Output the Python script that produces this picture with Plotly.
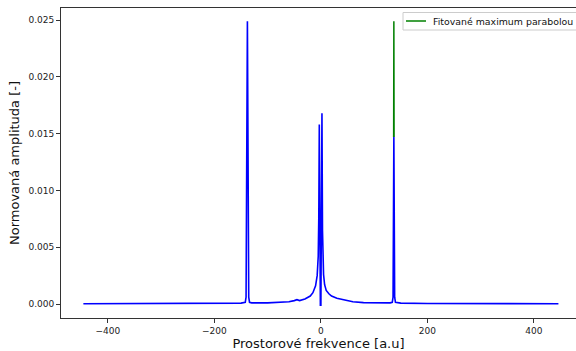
import plotly.graph_objects as go

# Spectrum (spatial frequency vs normalized amplitude)
freq = [-446, -300, -200, -150, -142, -140.5, -138, -135.5, -134, -130, -100, -80,
        -60, -50, -45, -40, -30, -20, -15, -10, -7, -5, -4, -3, -2, -1, 0,
        1, 2, 3, 4, 5, 7, 10, 15, 20, 30, 40, 45, 50, 60, 80, 100, 130,
        134, 135.5, 137, 138.5, 140, 150, 200, 300, 446]
amp = [0.00003, 0.00004, 0.00005, 0.00008, 0.00015, 0.0006, 0.0249, 0.0006, 0.00015, 0.0001, 0.0001, 0.00012,
       0.0002, 0.0003, 0.00038, 0.0003, 0.00045, 0.0007, 0.001, 0.0016, 0.0025, 0.0042, 0.0075, 0.0158, 0.005, -0.0001, -0.0001,
       0.006, 0.0168, 0.0065, 0.0042, 0.0026, 0.0017, 0.0012, 0.0009, 0.0007, 0.0005, 0.0004, 0.00035, 0.0003, 0.0002, 0.00012, 0.0001, 0.0001,
       0.00015, 0.0006, 0.0147, 0.0006, 0.00015, 0.00008, 0.00005, 0.00004, 0.00003]

# Parabola fitted to the maximum
fit_x = [136.6, 136.8, 137.0, 137.2, 137.4]
fit_y = [0.0147, 0.0224, 0.0249, 0.0224, 0.0147]
fit_label = "Fitované maximum parabolou"

x_ticks = [-400, -200, 0, 200, 400]
x_ticktext = ["\u2212400", "\u2212200", "0", "200", "400"]
y_ticks = [0.0, 0.005, 0.010, 0.015, 0.020, 0.025]

fig = go.Figure()
fig.add_trace(go.Scatter(x=fit_x, y=fit_y, mode="lines", line=dict(color="#008000", width=1.5),
                         name=fit_label, showlegend=False))
fig.add_trace(go.Scatter(x=freq, y=amp, mode="lines", line=dict(color="#0000ff", width=1.6),
                         showlegend=False))

axis_common = dict(showgrid=False, zeroline=False, showline=True, linecolor="#333333", linewidth=1,
                   ticks="outside", ticklen=4, tickcolor="#333333",
                   tickfont=dict(family="DejaVu Sans", size=9, color="#222222"))

# Legend drawn as a box, sample line and text (pixel positions converted to paper fractions)
W, H, L, R, T, B = 576, 351, 61, 0, 8, 33
pw, ph = W - L - R, H - T - B
def px(xp):
    return (xp - L) / pw
def py(yp):
    return 1 - (yp - T) / ph

shapes = [
    dict(type="rect", xref="paper", yref="paper", x0=px(403), x1=px(590), y0=py(30), y1=py(12.5),
         line=dict(color="#cccccc", width=1), fillcolor="rgba(255,255,255,0.8)", layer="above"),
    dict(type="line", xref="paper", yref="paper", x0=px(406), x1=px(426), y0=py(21), y1=py(21),
         line=dict(color="#008000", width=1.5), layer="above"),
]
annotations = [
    dict(text=fit_label, xref="paper", yref="paper", x=px(431), y=py(21.5), xanchor="left", yanchor="middle",
         showarrow=False, font=dict(family="DejaVu Sans", size=9.4, color="#111111")),
]

fig.update_layout(
    width=W, height=H,
    margin=dict(l=L, r=R, t=T, b=B),
    paper_bgcolor="white", plot_bgcolor="white",
    font=dict(family="DejaVu Sans"),
    xaxis=dict(range=[-488, 479], tickvals=x_ticks, ticktext=x_ticktext, mirror=True,
               title=dict(text="Prostorové frekvence [a.u]", font=dict(size=13, color="#111111"), standoff=4),
               **axis_common),
    yaxis=dict(range=[-0.00123, 0.02606], tickvals=y_ticks, tickformat=".3f",
               title=dict(text="Normovaná amplituda [-]", font=dict(size=13, color="#111111"), standoff=5),
               **axis_common),
    shapes=shapes,
    annotations=annotations,
    showlegend=False,
)

fig.write_html("out.html")
